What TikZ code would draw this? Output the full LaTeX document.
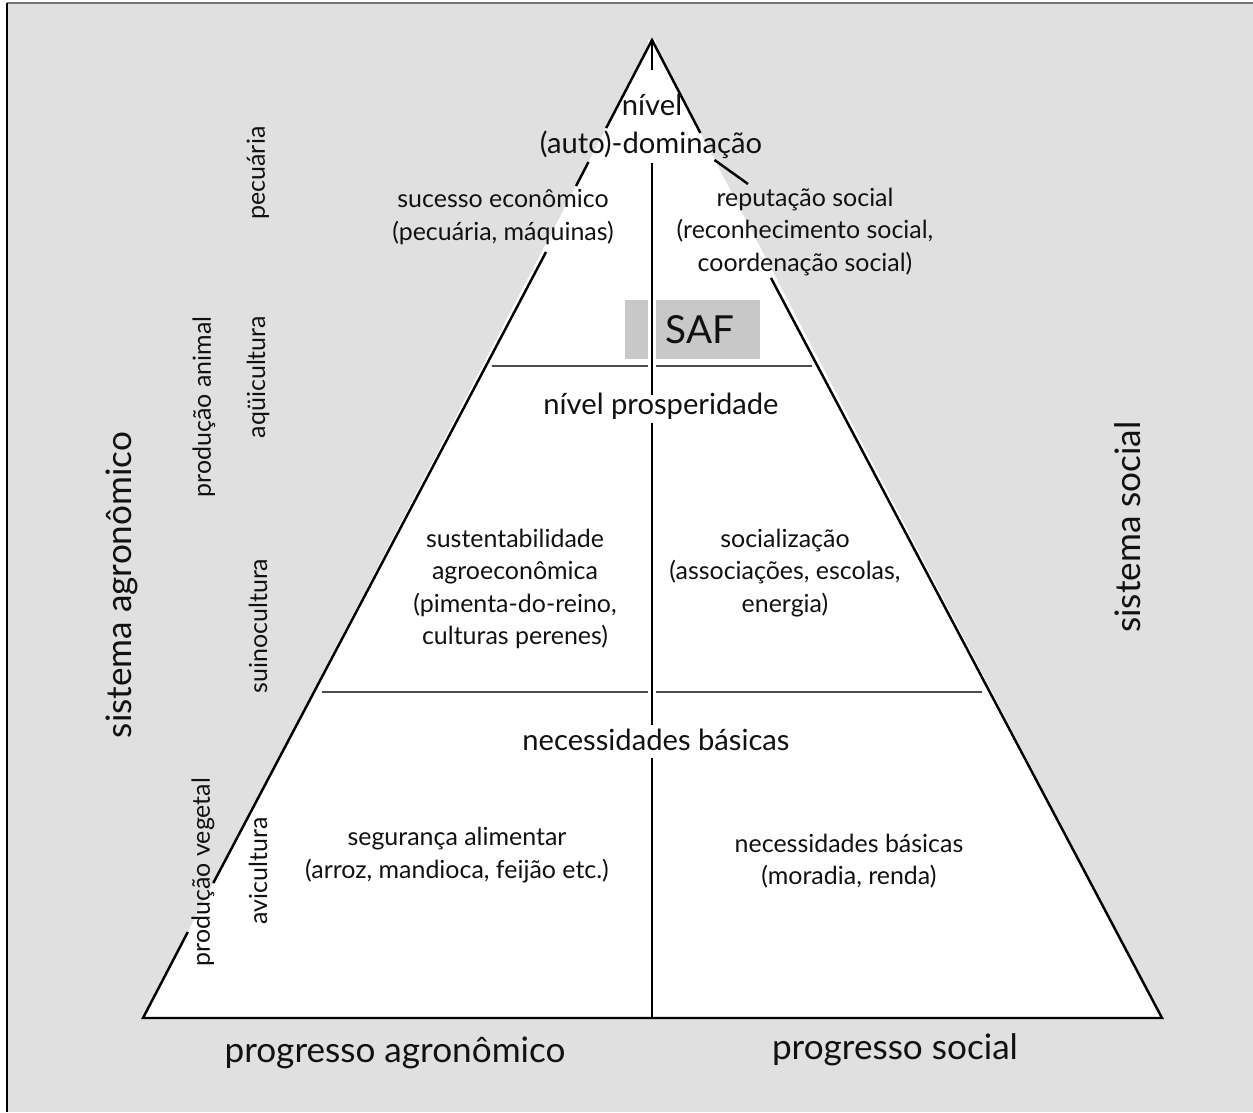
\documentclass[tikz,border=0pt]{standalone}
\usepackage{fontspec}
\setmainfont{Lato}
\definecolor{bggrey}{HTML}{E0E0E0}
\definecolor{safgrey}{HTML}{C8C8C8}
\definecolor{inkgrey}{HTML}{111111}
\tikzset{
    txtsmall/.style={font=\fontsize{14.2}{18.3}\selectfont, align=center, text=inkgrey, inner sep=0pt},
    txtmid/.style={font=\fontsize{16.6}{21}\selectfont, align=center, text=inkgrey, inner sep=0pt},
    txtbig/.style={font=\fontsize{20}{24}\selectfont, text=inkgrey, inner sep=0pt},
    edgeline/.style={line width=1.4pt},
    divline/.style={line width=1pt, draw=black!70}
}
\begin{document}
\begin{tikzpicture}[x=0.02cm, y=-0.02cm]
                                \useasboundingbox (0,0) rectangle (1253,1112);
                                % frame
                                \fill[bggrey] (7,3) rectangle (1253,1112);
                                \draw[line width=1.7pt, black!55] (7,3) -- (1253,3);
                                \draw[line width=1.2pt] (7,3) -- (7,1112);
                                % pyramid
                                \coordinate (apex) at (652,40);
                                \coordinate (bl) at (143,1018);
                                \coordinate (br) at (1162,1018);
                                \fill[white] (apex) -- (bl) -- (br) -- cycle;
                                \draw[divline] (492,366) -- (812,366);
                                \draw[divline] (322,692) -- (982,692);
                                \fill[safgrey] (625,300) rectangle (760,359);
                                \draw[white, line width=4.5pt] (652,40) -- (652,1018);
                                \draw[edgeline]
                                (652,40) -- (652,70)
                                (652,163) -- (652,395)
                                (652,423) -- (652,725)
                                (652,758) -- (652,1018);
                                \draw[edgeline]
                                (187.8,932) -- (bl) -- (br) -- (771,278)
                                (748,184) -- (714.5,160)
                                (700.4,133) -- (apex) -- (606.2,128)
                                (588.5,162) -- (576,186)
                                (546,252) -- (213.3,883);
                                % levels
                                \node[txtmid] (nivel) at (652,105) {nível};
                                \node[txtmid] (dominacao) at (651,145) {(auto)-dominação};
                                \node[txtsmall] (sucesso) at (503,217) {sucesso econômico\\(pecuária, máquinas)};
                                \node[txtsmall] (reputacao) at (805,232) {reputação social\\(reconhecimento social,\\coordenação social)};
                                \node[font=\fontsize{22}{26}\selectfont, text=inkgrey, inner sep=0pt] (saf) at (700,330) {SAF};
                                \node[txtmid] (prosperidade) at (661,406) {nível prosperidade};
                                \node[txtsmall] (sustentab) at (515,589) {sustentabilidade\\agroeconômica\\(pimenta-do-reino,\\culturas perenes)};
                                \node[txtsmall] (socializ) at (785,573) {socialização\\(associações, escolas,\\energia)};
                                \node[txtmid] (necessidades) at (656,740) {necessidades básicas};
                                \node[txtsmall] (seguranca) at (457,855) {segurança alimentar\\(arroz, mandioca, feijão etc.)};
                                \node[txtsmall] (moradia) at (849,861) {necessidades básicas\\(moradia, renda)};
                                % axes
                                \node[txtbig] (progagro) at (395,1053) {progresso agronômico};
                                \node[txtbig] (progsocial) at (895,1050) {progresso social};
                                \node[txtbig, rotate=90] (sisagro) at (122,585) {sistema agronômico};
                                \node[txtbig, rotate=90] (sissocial) at (1128,527) {sistema social};
                                % sectors
                                \node[txtsmall, rotate=90] (pecuaria) at (258,173) {pecuária};
                                \node[txtsmall, rotate=90] (prodanimal) at (204,407) {produção animal};
                                \node[txtsmall, rotate=90] (aquicultura) at (258,377) {aqüicultura};
                                \node[txtsmall, rotate=90] (suinocultura) at (258,626) {suinocultura};
                                \node[txtsmall, rotate=90] (prodvegetal) at (203,872) {produção vegetal};
                                \node[txtsmall, rotate=90] (avicultura) at (258,871) {avicultura};
                            \end{tikzpicture}
\end{document}
